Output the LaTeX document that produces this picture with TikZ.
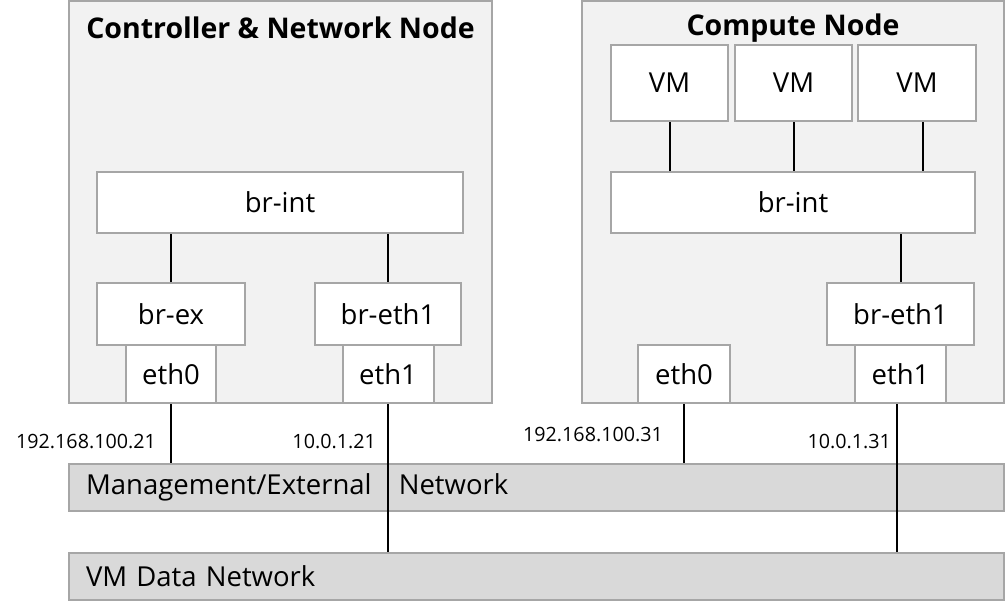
\documentclass[tikz,border=0pt]{standalone}
\usepackage{fontspec}
\setmainfont{Open Sans}
\definecolor{rahmen}{HTML}{A6A6A6}
\definecolor{hostfill}{HTML}{F2F2F2}
\definecolor{netfill}{HTML}{D9D9D9}
\begin{document}
\begin{tikzpicture}[
		% ein Pixel der Vorlage = 1pt
		x=1pt, y=-1pt,
		every node/.append style={font=\fontsize{27.5}{32}\selectfont},
		hostbox/.style={draw=rahmen, fill=hostfill, line width=2pt, inner sep=0pt},
		devbox/.style={draw=rahmen, fill=white, line width=2pt, inner sep=0pt},
		netbar/.style={draw=rahmen, fill=netfill, line width=2pt, inner xsep=17pt,
			inner ysep=0pt, minimum height=47pt, text width=901pt, align=left},
		iplabel/.style={inner sep=0pt, font=\fontsize{19.7}{22}\selectfont},
		wire/.style={line width=2pt, black},
		]
		\useasboundingbox (0,0) rectangle (1006,613);
		% Rechner
		\node[hostbox, minimum width=423pt, minimum height=402pt] (ctrl) at (280.5,202) {};
		\node[hostbox, minimum width=422pt, minimum height=402pt] (comp) at (793,202) {};
		\node[font=\bfseries\fontsize{28.5}{32}\selectfont] (ctrltitle) at (280.5,28) {Controller \& Network Node};
		\node[font=\bfseries\fontsize{28.5}{32}\selectfont] (comptitle) at (793,28) {Compute Node};
		% Controller & Network Node
		\node[devbox, minimum width=366pt, minimum height=61pt] (lbrint) at (280,202.5) {br-int};
		\node[devbox, minimum width=148pt, minimum height=62pt] (lbrex) at (171,314) {br-ex};
		\node[devbox, minimum width=146pt, minimum height=62pt] (lbreth) at (388,314) {br-eth1};
		\node[devbox, minimum width=90pt, minimum height=58pt] (leth0) at (171,374) {eth0};
		\node[devbox, minimum width=91pt, minimum height=58pt] (leth1) at (388,374) {eth1};
		% Compute Node
		\node[devbox, minimum width=117pt, minimum height=76pt] (vma) at (669.5,83) {VM};
		\node[devbox, minimum width=117pt, minimum height=76pt] (vmb) at (793.5,83) {VM};
		\node[devbox, minimum width=118pt, minimum height=76pt] (vmc) at (917,83) {VM};
		\node[devbox, minimum width=364pt, minimum height=61pt] (rbrint) at (793,202.5) {br-int};
		\node[devbox, minimum width=147pt, minimum height=62pt] (rbreth) at (900.5,314) {br-eth1};
		\node[devbox, minimum width=92pt, minimum height=58pt] (reth0) at (684,374) {eth0};
		\node[devbox, minimum width=91pt, minimum height=58pt] (reth1) at (900.5,374) {eth1};
		% Netze
		\node[netbar] (mgmt) at (536.5,487.5) {Management/External\hspace{18pt} Network};
		\node[netbar] (data) at (536.5,576.5) {VM Data Network};
		% Adressen
		\node[iplabel, anchor=east] (lip0) at (156,441) {192.168.100.21};
		\node[iplabel, anchor=east] (lip1) at (376,441) {10.0.1.21};
		\node[iplabel, anchor=east] (rip0) at (663,434) {192.168.100.31};
		\node[iplabel, anchor=east] (rip1) at (891,441) {10.0.1.31};
		% Verbindungen
		\draw[wire] (lbrex.north) -- (lbrex.north |- lbrint.south);
		\draw[wire] (lbreth.north) -- (lbreth.north |- lbrint.south);
		\draw[wire] (vma.south) -- (vma.south |- rbrint.north);
		\draw[wire] (vmb.south) -- (vmb.south |- rbrint.north);
		\draw[wire] ([xshift=6pt]vmc.south) -- ([xshift=6pt]vmc.south |- rbrint.north);
		\draw[wire] (rbreth.north) -- (rbreth.north |- rbrint.south);
		\draw[wire] (leth0.south) -- (leth0.south |- mgmt.north);
		\draw[wire] (reth0.south) -- (reth0.south |- mgmt.north);
		\draw[wire] (leth1.south) -- (leth1.south |- data.north);
		\draw[wire] ([xshift=-4pt]reth1.south) -- ([xshift=-4pt]reth1.south |- data.north);
	\end{tikzpicture}
\end{document}
